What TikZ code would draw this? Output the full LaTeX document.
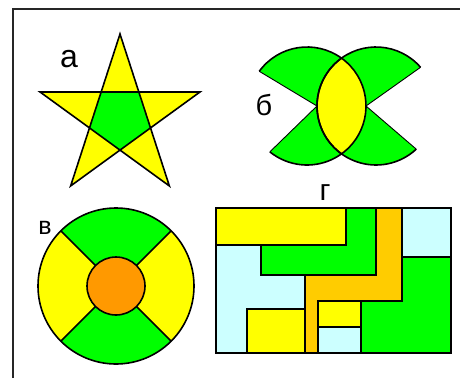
\documentclass[tikz,border=0pt]{standalone}
\usepackage{fontspec}
\setmainfont{Liberation Sans}
\usetikzlibrary{calc}

\definecolor{yel}{RGB}{255,255,0}
\definecolor{grn}{RGB}{0,255,0}
\definecolor{org}{RGB}{255,153,0}
\definecolor{gold}{RGB}{255,204,0}
\definecolor{sky}{RGB}{204,255,255}

\begin{document}
\begin{tikzpicture}[
	x=1pt, y=-1pt,
	% Style for the outlined pieces
	piece/.style={
		draw=black,
		line width=1.6pt,
		line join=miter
	},
	% Style for the thin dividing lines
	thinline/.style={
		draw=black,
		line width=0.9pt
	},
	% Style for the letter labels
	letter/.style={
		inner sep=0pt,
		font=\fontsize{#1}{#1}\selectfont
	}
	]
	\useasboundingbox (0,0) rectangle (460,378);
	% Frame along the top and the left
	\draw[line width=1.6pt, black!85] (13,378) -- (13,9) -- (460,9);
	
	% Star (a)
	\coordinate (S) at (120,118);
	\foreach \i in {0,...,4}{
		\coordinate (t\i) at ($(S)+(-90+72*\i:84)$);
		\coordinate (p\i) at ($(S)+(-54+72*\i:32.1)$);
	}
	\fill[yel] (t0) -- (t2) -- (t4) -- (t1) -- (t3) -- cycle;
	\fill[grn] (p0) -- (p1) -- (p2) -- (p3) -- (p4) -- cycle;
	\draw[piece, line join=miter] (t0) -- (t2) -- (t4) -- (t1) -- (t3) -- cycle;
	\node[letter=32pt] (la) at (69,59) {а};
	
	% Two cut circles (b)
	\coordinate (L) at (307,106);
	\coordinate (R) at (376,106);
	\coordinate (Ltip) at (317,106);
	\coordinate (Rtip) at (366,106);
	\fill[grn] ($(L)+(-144:59)$) arc[start angle=-144, end angle=129, radius=59] -- (Ltip) -- cycle;
	\fill[grn] ($(R)+(-41:59)$) arc[start angle=-41, end angle=-313, radius=59] -- (Rtip) -- cycle;
	\fill[yel] ($(R)+(-125.7:59)$) arc[start angle=-125.7, end angle=-234.3, radius=59]
		arc[start angle=54.3, end angle=-54.3, radius=59] -- cycle;
	\draw[piece] ($(L)+(-144:59)$) arc[start angle=-144, end angle=129, radius=59];
	\draw[piece] ($(R)+(-41:59)$) arc[start angle=-41, end angle=-313, radius=59];
	\draw[piece] ($(R)+(-125.7:59)$) arc[start angle=-125.7, end angle=-234.3, radius=59];
	\draw[thinline] ($(L)+(-144:59)$) -- (Ltip) -- ($(L)+(129:59)$);
	\draw[thinline] ($(R)+(-41:59)$) -- (Rtip) -- ($(R)+(47:59)$);
	\node[letter=29pt] (lb) at (264,105) {б};
	
	% Ring (v)
	\coordinate (C) at (116,286);
	\fill[grn] (C) circle (78);
	\fill[yel] (C) -- ($(C)+(135:78)$) arc[start angle=135, end angle=225, radius=78] -- cycle;
	\fill[yel] (C) -- ($(C)+(-45:78)$) arc[start angle=-45, end angle=45, radius=78] -- cycle;
	\foreach \a in {45,135,225,315}{
		\draw[piece] ($(C)+(\a:29)$) -- ($(C)+(\a:78)$);
	}
	\draw[piece] (C) circle (78);
	\draw[piece, fill=org] (C) circle (29);
	\node[letter=25pt] (lv) at (45,228) {в};
	
	% Rectangle puzzle (g)
	\draw[piece, fill=yel] (216,208) rectangle (346,245);
	\draw[piece, fill=grn] (346,208) -- (376,208) -- (376,275) -- (261,275) -- (261,245) -- (346,245) -- cycle;
	\draw[piece, fill=gold] (376,208) -- (402,208) -- (402,301) -- (318,301) -- (318,353) -- (305,353) -- (305,275) -- (376,275) -- cycle;
	\draw[piece, fill=sky] (402,208) rectangle (451,257);
	\draw[piece, fill=grn] (402,257) -- (451,257) -- (451,353) -- (361,353) -- (361,301) -- (402,301) -- cycle;
	\draw[piece, fill=yel] (318,301) rectangle (361,327);
	\draw[piece, fill=sky] (318,327) rectangle (361,353);
	\draw[piece, fill=sky] (216,245) -- (261,245) -- (261,275) -- (305,275) -- (305,309) -- (247,309) -- (247,353) -- (216,353) -- cycle;
	\draw[piece, fill=yel] (247,309) rectangle (305,353);
	\draw[piece] (216,208) rectangle (451,353);
	\node[letter=30pt] (lg) at (325,193) {г};
\end{tikzpicture}
\end{document}
